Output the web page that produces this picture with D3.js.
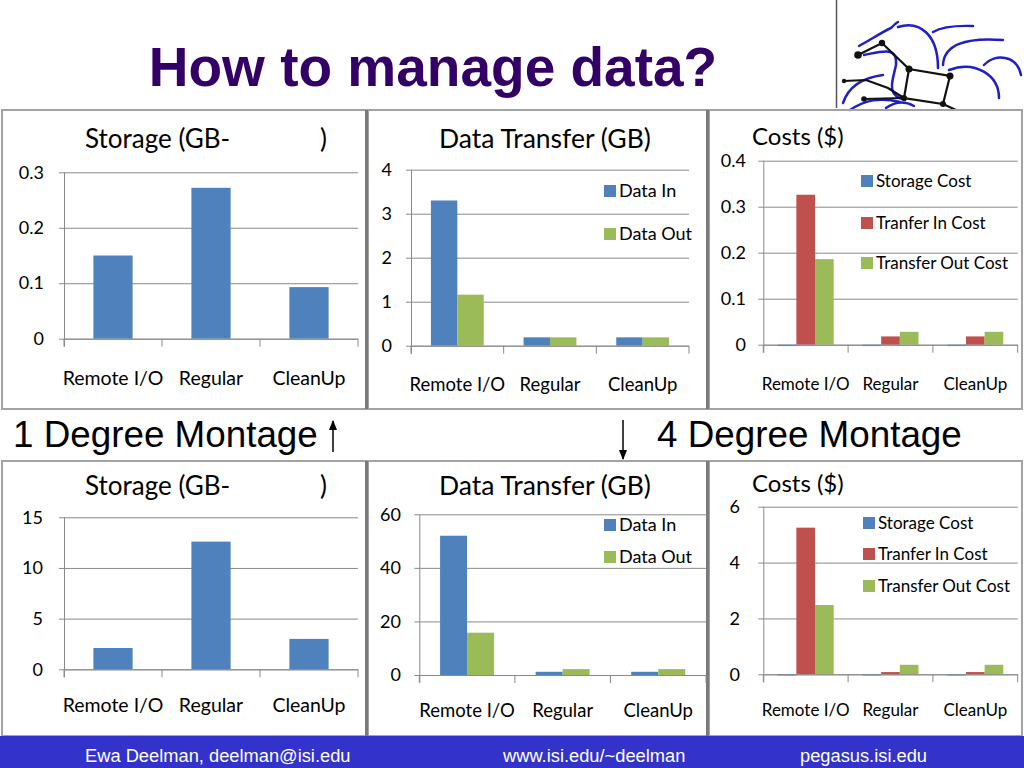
<!DOCTYPE html>
<html>
<head>
<meta charset="utf-8">
<script src="https://cdn.jsdelivr.net/npm/d3@7"></script>
<style>
  body { margin: 0; background: #fff; }
  svg { display: block; }
</style>
</head>
<body>
<svg id="slide" width="1024" height="768"></svg>
<script>
// ---- data ----
const categories = ["Remote I/O", "Regular", "CleanUp"];

// 1 degree Montage
const storage1 = [0.15, 0.272, 0.093];
const dataIn1 = [3.3, 0.19, 0.19];
const dataOut1 = [1.16, 0.19, 0.19];
const storageCost1 = [-0.003, -0.003, -0.003];
const transferInCost1 = [0.326, 0.018, 0.018];
const transferOutCost1 = [0.186, 0.028, 0.028];

// 4 degree Montage
const storage4 = [2.1, 12.6, 3.0];
const dataIn4 = [52, 1.2, 1.2];
const dataOut4 = [15.8, 2.2, 2.2];
const storageCost4 = [-0.04, -0.04, -0.04];
const transferInCost4 = [5.25, 0.08, 0.08];
const transferOutCost4 = [2.48, 0.34, 0.34];

const storageTicks1 = [0, 0.1, 0.2, 0.3];
const transferTicks1 = [0, 1, 2, 3, 4];
const costTicks1 = [0, 0.1, 0.2, 0.3, 0.4];
const storageTicks4 = [0, 5, 10, 15];
const transferTicks4 = [0, 20, 40, 60];
const costTicks4 = [0, 2, 4, 6];

const blue = "#4f81bd", red = "#c0504d", green = "#9bbb59";
const gridColor = "#8a8a8a";
const chartFont = "Lato, 'Open Sans', sans-serif";

const svg = d3.select('#slide');

// ---- slide title ----
svg.append('text')
    .attr('x', 433).attr('y', 86)
    .attr('text-anchor', 'middle')
    .style('font-family', "'Liberation Sans', Arial, sans-serif")
    .style('font-weight', 'bold')
    .style('font-size', '55px')
    .attr('fill', '#330066')
    .text('How to manage data?');

// ---- logo (rough hand sketch) ----
const logo = svg.append('g');
logo.append('line').attr('x1', 836.5).attr('x2', 836.5).attr('y1', 0).attr('y2', 108)
    .attr('stroke', '#555').attr('stroke-width', 1.5);
const bluePaths = [
  "M859,46 C870,40 884,31 891,28 C894,25 896,23 898,22",
  "M898,27 C920,20 938,35 938,68",
  "M933,32 Q945,25 973,26",
  "M943,65 C944,45 965,37 1003,40",
  "M949,70 C975,60 999,75 999,98",
  "M984,65 C995,53 1017,55 1021,75",
  "M864,55 C880,52 898,45 896,65 C893,80 885,95 905,100",
  "M843,103 C848,88 860,78 883,75",
  "M850,110 C865,100 880,97 900,102",
  "M886,108 Q900,98 914,106"
];
logo.selectAll('path.b').data(bluePaths).enter().append('path')
    .attr('d', d => d).attr('fill', 'none')
    .attr('stroke', '#1f1fc8').attr('stroke-width', 2.5).attr('stroke-linecap', 'round');
const blackPaths = [
  "M858,55 L882,43 L909,69 L950,76 L943,104 L904,98 L909,69",
  "M844,81 L866,80 L888,88 L904,98",
  "M864,99 L904,98",
  "M943,104 L956,110"
];
logo.selectAll('path.k').data(blackPaths).enter().append('path')
    .attr('d', d => d).attr('fill', 'none')
    .attr('stroke', '#111').attr('stroke-width', 2.2);
const nodes = [[858, 55, 3.8], [882, 43, 3.2], [909, 69, 3.5], [950, 76, 3.5],
               [904, 98, 3], [943, 104, 3], [844, 81, 2.2], [864, 99, 2.8]];
logo.selectAll('circle').data(nodes).enter().append('circle')
    .attr('cx', d => d[0]).attr('cy', d => d[1]).attr('r', d => d[2]).attr('fill', '#111');

// ---- panel frames ----
const frames = [[2, 110, 366, 409], [368, 110, 708, 409], [709, 110, 1022, 409],
                [2, 461, 366, 736], [368, 461, 708, 736], [709, 461, 1022, 736]];
svg.selectAll('rect.frame').data(frames).enter().append('rect')
    .attr('x', d => d[0]).attr('y', d => d[1])
    .attr('width', d => d[2] - d[0]).attr('height', d => d[3] - d[1])
    .attr('fill', 'none').attr('stroke', '#a3a3a3').attr('stroke-width', 2);
[[366.5, 110, 409], [707.5, 110, 409], [366.5, 461, 736], [707.5, 461, 736]].forEach(s => {
  svg.append('line').attr('x1', s[0]).attr('x2', s[0]).attr('y1', s[1]).attr('y2', s[2])
      .attr('stroke', '#7a7a7a').attr('stroke-width', 3);
});

// ---- charts ----
const charts = [
  { x0: 64, x1: 358, yT: 172.3, yB: 338.7, ticks: storageTicks1, pad: 0.6,
    title: [["Storage (GB-", 85], [")", 320]], titleY: 148, titleSize: 26,
    catY: 385, catSize: 19.5, tickRight: 44,
    series: [{ name: "Storage", values: storage1, color: blue }] },
  { x0: 411, x1: 689, yT: 169.7, yB: 345.7, ticks: transferTicks1, pad: 0.43,
    title: [["Data Transfer (GB)", 439]], titleY: 148, titleSize: 26.5,
    catY: 391, catSize: 18.5, tickRight: 392,
    legend: { x: 604, ys: [191, 234], size: 18 },
    series: [{ name: "Data In", values: dataIn1, color: blue },
             { name: "Data Out", values: dataOut1, color: green }] },
  { x0: 763.3, x1: 1017.7, yT: 160.7, yB: 344.7, ticks: costTicks1, pad: 0.34,
    title: [["Costs ($)", 752]], titleY: 145, titleSize: 24,
    catY: 390, catSize: 17, tickRight: 746,
    legend: { x: 861, ys: [181, 223, 263], size: 17 },
    series: [{ name: "Storage Cost", values: storageCost1, color: blue },
             { name: "Tranfer In Cost", values: transferInCost1, color: red },
             { name: "Transfer Out Cost", values: transferOutCost1, color: green }] },
  { x0: 64, x1: 358, yT: 517.3, yB: 669.3, ticks: storageTicks4, pad: 0.6,
    title: [["Storage (GB-", 85], [")", 320]], titleY: 495, titleSize: 26,
    catY: 711.5, catSize: 19.5, tickRight: 43,
    series: [{ name: "Storage", values: storage4, color: blue }] },
  { x0: 419.3, x1: 706, yT: 514.3, yB: 675, ticks: transferTicks4, pad: 0.435,
    title: [["Data Transfer (GB)", 439]], titleY: 495, titleSize: 26.5,
    catY: 716.5, catSize: 18.5, tickRight: 401,
    legend: { x: 604, ys: [525, 557], size: 18 },
    series: [{ name: "Data In", values: dataIn4, color: blue },
             { name: "Data Out", values: dataOut4, color: green }] },
  { x0: 763.3, x1: 1017.7, yT: 506.7, yB: 674.3, ticks: costTicks4, pad: 0.34,
    title: [["Costs ($)", 752]], titleY: 492, titleSize: 24,
    catY: 715.5, catSize: 17, tickRight: 740,
    legend: { x: 863, ys: [523, 554, 586], size: 17 },
    series: [{ name: "Storage Cost", values: storageCost4, color: blue },
             { name: "Tranfer In Cost", values: transferInCost4, color: red },
             { name: "Transfer Out Cost", values: transferOutCost4, color: green }] }
];

function drawChart(c) {
  const g = svg.append('g');
  const x = d3.scaleBand().domain(categories).range([c.x0, c.x1])
      .paddingInner(c.pad).paddingOuter(c.pad / 2);
  const y = d3.scaleLinear().domain([0, d3.max(c.ticks)]).range([c.yB, c.yT]);
  const xs = d3.scaleBand().domain(c.series.map(s => s.name)).range([0, x.bandwidth()]);
  const w = c.x1 - c.x0;

  // gridlines
  g.append('g').attr('transform', `translate(${c.x0},0)`)
      .call(d3.axisLeft(y).tickValues(c.ticks).tickSize(-w).tickFormat(''))
      .call(a => a.select('.domain').remove())
      .call(a => a.selectAll('line').attr('stroke', gridColor));

  // y tick labels + little outside ticks
  g.append('g').attr('transform', `translate(${c.x0},0)`)
      .call(d3.axisLeft(y).tickValues(c.ticks).tickSize(5)
          .tickPadding(c.x0 - c.tickRight - 5).tickFormat(d => String(d)))
      .call(a => a.select('.domain').remove())
      .call(a => a.selectAll('line').attr('stroke', gridColor))
      .call(a => a.selectAll('text').style('font-family', chartFont)
          .style('font-size', '18px').attr('fill', '#000'));

  // bars
  c.series.forEach(s => {
    g.selectAll(null).data(s.values).enter().append('rect')
        .attr('x', (d, i) => x(categories[i]) + xs(s.name))
        .attr('y', d => y(Math.max(0, d)))
        .attr('width', xs.bandwidth())
        .attr('height', d => Math.abs(y(d) - y(0)))
        .attr('fill', s.color);
  });

  // category axis: line at zero, ticks between categories
  g.append('line').attr('x1', c.x0).attr('x2', c.x1)
      .attr('y1', y(0) + 0.5).attr('y2', y(0) + 0.5).attr('stroke', gridColor);
  g.append('line').attr('x1', c.x0 + 0.5).attr('x2', c.x0 + 0.5)
      .attr('y1', c.yT).attr('y2', y(0) + 8).attr('stroke', gridColor);
  const bounds = d3.range(categories.length + 1).map(i => c.x0 + i * x.step());
  g.selectAll(null).data(bounds).enter().append('line')
      .attr('x1', d => d).attr('x2', d => d)
      .attr('y1', y(0)).attr('y2', y(0) + 8).attr('stroke', gridColor);
  g.selectAll(null).data(categories).enter().append('text')
      .attr('x', d => x(d) + x.bandwidth() / 2).attr('y', c.catY)
      .attr('text-anchor', 'middle')
      .style('font-family', chartFont).style('font-size', c.catSize + 'px')
      .text(d => d);

  // title
  c.title.forEach(t => {
    g.append('text').attr('x', t[1]).attr('y', c.titleY)
        .style('font-family', chartFont).style('font-size', c.titleSize + 'px')
        .text(t[0]);
  });

  // legend
  if (c.legend) {
    c.series.forEach((s, i) => {
      const ly = c.legend.ys[i];
      g.append('rect').attr('x', c.legend.x).attr('y', ly - 6)
          .attr('width', 12).attr('height', 12).attr('fill', s.color);
      g.append('text').attr('x', c.legend.x + 15).attr('y', ly + 6)
          .style('font-family', chartFont).style('font-size', c.legend.size + 'px')
          .text(s.name);
    });
  }
}

charts.forEach(drawChart);

// ---- middle labels ----
const midFont = "'Liberation Sans', Arial, sans-serif";
svg.append('text').attr('x', 13).attr('y', 447)
    .style('font-family', midFont).style('font-size', '36.8px').text('1 Degree Montage');
svg.append('text').attr('x', 657).attr('y', 447)
    .style('font-family', midFont).style('font-size', '36.8px').text('4 Degree Montage');

svg.append('defs').append('marker')
    .attr('id', 'head').attr('viewBox', '0 0 10 10')
    .attr('refX', 9).attr('refY', 5)
    .attr('markerWidth', 7).attr('markerHeight', 9).attr('orient', 'auto')
    .append('path').attr('d', 'M0,1 L10,5 L0,9 Z').attr('fill', '#000');
svg.append('line').attr('x1', 333).attr('x2', 333).attr('y1', 452).attr('y2', 421)
    .attr('stroke', '#000').attr('stroke-width', 1.5).attr('marker-end', 'url(#head)');
svg.append('line').attr('x1', 623).attr('x2', 623).attr('y1', 420).attr('y2', 459)
    .attr('stroke', '#000').attr('stroke-width', 1.5).attr('marker-end', 'url(#head)');

// ---- footer ----
svg.append('rect').attr('x', 0).attr('y', 736).attr('width', 1024).attr('height', 32)
    .attr('fill', '#3333cc');
const footer = [["Ewa Deelman, deelman@isi.edu", 85], ["www.isi.edu/~deelman", 503], ["pegasus.isi.edu", 800]];
svg.selectAll('text.foot').data(footer).enter().append('text')
    .attr('x', d => d[1]).attr('y', 762)
    .style('font-family', midFont).style('font-size', '18.3px')
    .attr('fill', '#fff')
    .text(d => d[0]);
</script>
</body>
</html>
